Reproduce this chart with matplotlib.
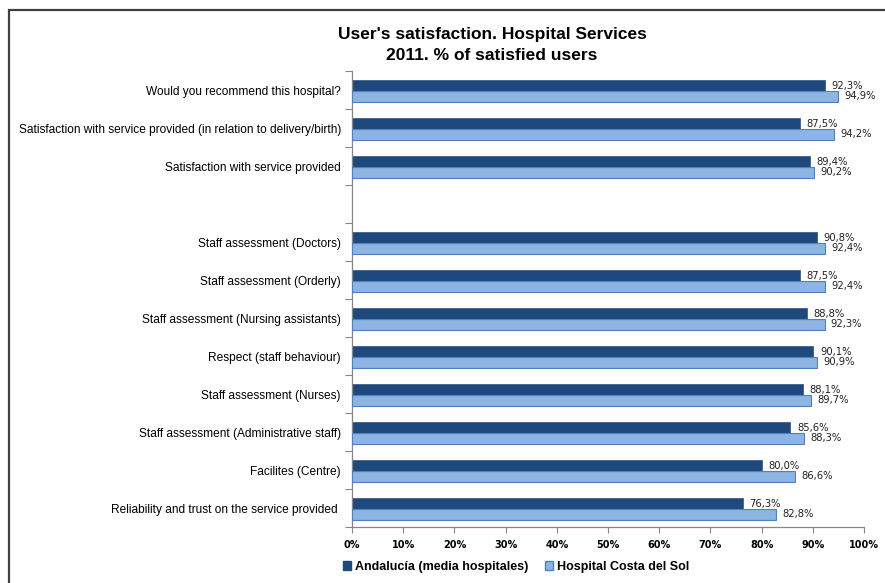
import numpy as np
import matplotlib
matplotlib.use("Agg")
import matplotlib.pyplot as plt
from matplotlib.patches import Rectangle, Patch
from matplotlib.ticker import MultipleLocator, FuncFormatter

categories = [
    "Would you recommend this hospital?",
    "Satisfaction with service provided (in relation to delivery/birth)",
    "Satisfaction with service provided",
    "",
    "Staff assessment (Doctors)",
    "Staff assessment (Orderly)",
    "Staff assessment (Nursing assistants)",
    "Respect (staff behaviour)",
    "Staff assessment (Nurses)",
    "Staff assessment (Administrative staff)",
    "Facilites (Centre)",
    "Reliability and trust on the service provided ",
]
andalucia = [92.3, 87.5, 89.4, np.nan, 90.8, 87.5, 88.8, 90.1, 88.1, 85.6, 80.0, 76.3]
costa_del_sol = [94.9, 94.2, 90.2, np.nan, 92.4, 92.4, 92.3, 90.9, 89.7, 88.3, 86.6, 82.8]
series_names = ["Andalucía (media hospitales)", "Hospital Costa del Sol"]
title = "User's satisfaction. Hospital Services\n2011. % of satisfied users"

dark = "#1F497D"
light = "#8DB4E2"
light_edge = "#4F81BD"
grey = "#868686"

plt.rcParams["font.family"] = ["Liberation Sans", "DejaVu Sans"]

fig = plt.figure(figsize=(8.85, 5.83), dpi=100)
ax = fig.add_axes([352 / 885, 1 - 527 / 583, 512 / 885, 456 / 583])

y = np.arange(len(categories))
h = 0.29
ax.barh(y - 0.13, andalucia, height=h, color=dark, edgecolor="#3A5F8F", linewidth=0.6, zorder=2)
ax.barh(y + 0.16, costa_del_sol, height=h, color=light, edgecolor=light_edge, linewidth=0.8, zorder=3)

def fmt(v):
    return f"{v:.1f}%".replace(".", ",")

for yi, a, c in zip(y, andalucia, costa_del_sol):
    if not np.isnan(a):
        ax.text(a + 1.3, yi - 0.1, fmt(a), ha="left", va="center", fontsize=7.2,
                family=["DejaVu Sans"], color="#222222", zorder=4)
    if not np.isnan(c):
        ax.text(c + 1.2, yi + 0.17, fmt(c), ha="left", va="center", fontsize=7.2,
                family=["DejaVu Sans"], color="#222222", zorder=4)

ax.set_xlim(0, 100)
ax.set_ylim(len(categories) - 0.5, -0.5)

ax.set_yticks(y)
ax.set_yticklabels(categories, fontsize=8.6)
ax.set_yticks(np.arange(len(categories) + 1) - 0.5, minor=True)
ax.tick_params(axis="y", which="major", length=0, pad=8)
ax.tick_params(axis="y", which="minor", length=5, color=grey, width=0.8)

ax.xaxis.set_major_locator(MultipleLocator(10))
ax.xaxis.set_major_formatter(FuncFormatter(lambda v, p: f"{int(round(v))}%"))
ax.tick_params(axis="x", length=4, color=grey, width=0.8, pad=5)
for lab in ax.get_xticklabels():
    lab.set_fontweight("bold")
    lab.set_fontsize(7)
    lab.set_family(["DejaVu Sans"])

for side in ("top", "right"):
    ax.spines[side].set_visible(False)
for side in ("left", "bottom"):
    ax.spines[side].set_color(grey)
    ax.spines[side].set_linewidth(0.9)

fig.text(492 / 885, 1 - 45 / 583, title, ha="center", va="center", fontsize=12.5,
         fontweight="bold", linespacing=1.45)

handles = [Patch(facecolor=dark, edgecolor=dark), Patch(facecolor=light, edgecolor=light_edge)]
leg = fig.legend(handles, series_names, loc="center", bbox_to_anchor=(516 / 885, 1 - 567 / 583),
                 ncol=2, frameon=False, handlelength=0.7, handleheight=0.7, handletextpad=0.3,
                 columnspacing=1.3, prop={"weight": "bold", "size": 9})

fig.add_artist(Rectangle((9 / 885, -0.1), 1.2, 1.1 - 10 / 583, transform=fig.transFigure,
                         fill=False, edgecolor="#404040", linewidth=1.6, clip_on=False))

fig.savefig("out.png", dpi=100)
